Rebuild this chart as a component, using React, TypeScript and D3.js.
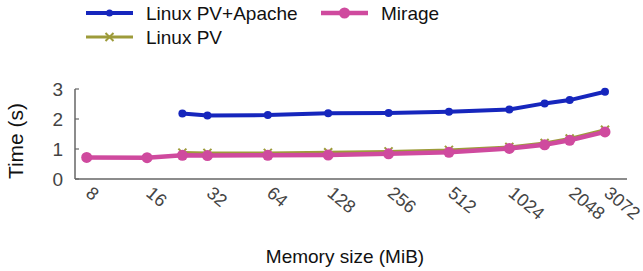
import React, { useEffect, useRef } from 'react';
import * as d3 from "d3";

// memory sizes (MiB) where measurements were taken
const sizes = [8, 16, 24, 32, 64, 128, 256, 512, 1024, 1536, 2048, 3072];
const apache = [null, null, 2.18, 2.12, 2.13, 2.19, 2.20, 2.24, 2.32, 2.52, 2.63, 2.91];
const linuxPV = [null, null, 0.88, 0.87, 0.87, 0.89, 0.92, 0.97, 1.07, 1.20, 1.35, 1.64];
const mirage = [0.72, 0.71, 0.79, 0.78, 0.79, 0.80, 0.84, 0.89, 1.02, 1.14, 1.29, 1.57];

const xTicks = [8, 16, 32, 64, 128, 256, 512, 1024, 2048, 3072];
const yTicks = [0, 1, 2, 3];

const FONT = "'Liberation Sans', Arial, Helvetica, sans-serif";

type Pt = { size: number; value: number };

const toPoints = (vals: (number | null)[]): Pt[] =>
    sizes.map((s, i) => ({ size: s, value: vals[i] as number })).filter((d) => d.value != null);

const App = () => {
    const svgRef = useRef<SVGSVGElement | null>(null);

    useEffect(() => {
        if (!svgRef.current) return;
        const width = 643;
        const height = 271;
        const svg = d3.select(svgRef.current);
        svg.selectAll("*").remove();
        svg.attr("width", width).attr("height", height);

        const axisLeft = 75;
        const axisRight = 627;
        const xScale = d3.scaleLog().base(2).domain([8, 3072]).range([86.7, 605]);
        const yScale = d3.scaleLinear().domain([0, 3]).range([179, 89]);

        // axes
        const axisColor = "#666";
        svg.append("line")
            .attr("x1", axisLeft).attr("x2", axisLeft)
            .attr("y1", yScale(3)).attr("y2", yScale(0))
            .attr("stroke", axisColor).attr("stroke-width", 1.5);
        svg.append("line")
            .attr("x1", axisLeft).attr("x2", axisRight)
            .attr("y1", yScale(0)).attr("y2", yScale(0))
            .attr("stroke", axisColor).attr("stroke-width", 1.5);

        svg.selectAll(".ytick").data(yTicks).enter()
            .append("line")
            .attr("x1", axisLeft).attr("x2", axisLeft + 4)
            .attr("y1", (d: number) => yScale(d)).attr("y2", (d: number) => yScale(d))
            .attr("stroke", axisColor).attr("stroke-width", 1.2);

        svg.selectAll(".ylabel").data(yTicks).enter()
            .append("text")
            .attr("x", 63)
            .attr("y", (d: number) => yScale(d))
            .attr("dy", "0.35em")
            .attr("text-anchor", "end")
            .attr("font-family", FONT)
            .attr("font-size", 19)
            .attr("fill", "#444")
            .text((d: number) => d);

        svg.selectAll(".xlabel").data(xTicks).enter()
            .append("text")
            .attr("transform", (d: number) => `translate(${xScale(d) - 2}, 195) rotate(40)`)
            .attr("text-anchor", "start")
            .attr("font-family", FONT)
            .attr("font-size", 18)
            .attr("fill", "#444")
            .text((d: number) => d);

        svg.append("text")
            .attr("x", 345).attr("y", 263)
            .attr("text-anchor", "middle")
            .attr("font-family", FONT)
            .attr("font-size", 19)
            .attr("fill", "#111")
            .text("Memory size (MiB)");

        svg.append("text")
            .attr("transform", "translate(23, 141) rotate(-90)")
            .attr("text-anchor", "middle")
            .attr("font-family", FONT)
            .attr("font-size", 21)
            .attr("fill", "#111")
            .text("Time (s)");

        const line = d3.line<Pt>()
            .x((d: Pt) => xScale(d.size))
            .y((d: Pt) => yScale(d.value));

        const blue = "#1626bd";
        const olive = "#9d9b3a";
        const pink = "#cf4a9e";

        // Linux PV+Apache
        const apachePts = toPoints(apache);
        svg.append("path").datum(apachePts)
            .attr("fill", "none").attr("stroke", blue).attr("stroke-width", 4)
            .attr("d", line);
        svg.selectAll(".apache").data(apachePts).enter()
            .append("circle")
            .attr("cx", (d: Pt) => xScale(d.size)).attr("cy", (d: Pt) => yScale(d.value))
            .attr("r", 4).attr("fill", blue);

        // Linux PV
        const pvPts = toPoints(linuxPV);
        svg.append("path").datum(pvPts)
            .attr("fill", "none").attr("stroke", olive).attr("stroke-width", 3)
            .attr("d", line);
        const cross = (g: any, x: number, y: number, s: number) => {
            g.append("path")
                .attr("d", `M${x - s},${y - s}L${x + s},${y + s}M${x - s},${y + s}L${x + s},${y - s}`)
                .attr("stroke", olive).attr("stroke-width", 2).attr("fill", "none");
        };
        pvPts.forEach((d) => cross(svg, xScale(d.size), yScale(d.value), 4));

        // Mirage
        const miragePts = toPoints(mirage);
        svg.append("path").datum(miragePts)
            .attr("fill", "none").attr("stroke", pink).attr("stroke-width", 4.5)
            .attr("d", line);
        svg.selectAll(".mirage").data(miragePts).enter()
            .append("circle")
            .attr("cx", (d: Pt) => xScale(d.size)).attr("cy", (d: Pt) => yScale(d.value))
            .attr("r", 5.5).attr("fill", pink);

        // legend
        const legend = svg.append("g");
        const entry = (x: number, y: number, color: string, label: string, w: number) => {
            legend.append("line")
                .attr("x1", x).attr("x2", x + 47).attr("y1", y).attr("y2", y)
                .attr("stroke", color).attr("stroke-width", w);
            legend.append("text")
                .attr("x", x + 60).attr("y", y)
                .attr("dy", "0.35em")
                .attr("font-family", FONT)
                .attr("font-size", 19)
                .attr("fill", "#111")
                .text(label);
        };
        entry(86, 13, blue, "Linux PV+Apache", 4);
        legend.append("circle").attr("cx", 109.5).attr("cy", 13).attr("r", 3.5).attr("fill", blue);
        entry(321, 13, pink, "Mirage", 4.5);
        legend.append("circle").attr("cx", 344.5).attr("cy", 13).attr("r", 5.5).attr("fill", pink);
        entry(86, 37, olive, "Linux PV", 3);
        cross(legend, 109.5, 37, 4);
    }, []);

    return (
        <svg ref={svgRef} style={{ position: "absolute", left: 0, top: 0 }}></svg>
    );
};

export default App;
